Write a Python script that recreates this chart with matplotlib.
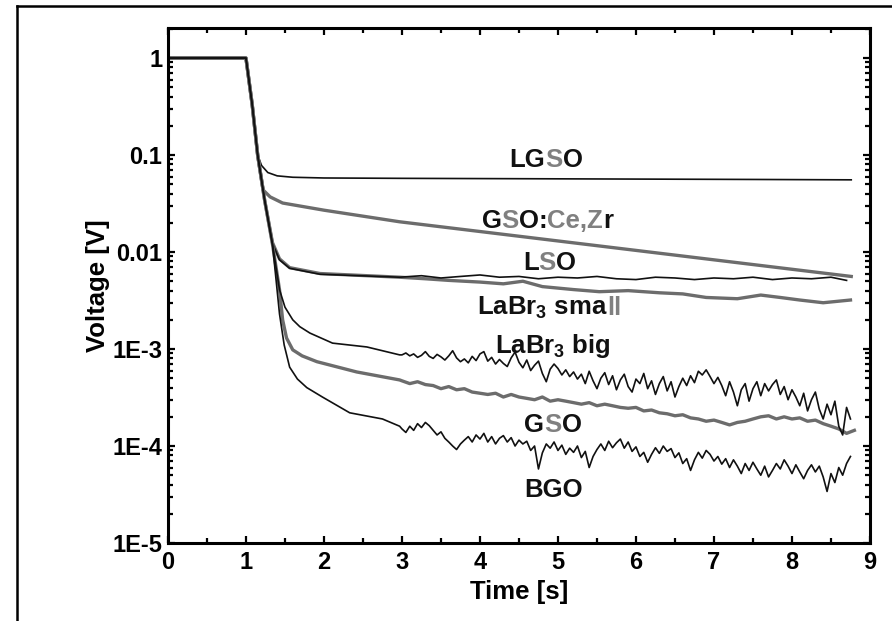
import numpy as np
import matplotlib.pyplot as plt
from matplotlib.lines import Line2D
from matplotlib.ticker import FixedLocator, FixedFormatter, MultipleLocator, LogLocator, NullFormatter

plt.rcParams['font.family'] = ['Liberation Sans', 'DejaVu Sans']
plt.rcParams['font.weight'] = 'bold'
plt.rcParams['mathtext.default'] = 'regular'

BLACK = '#111111'
GRAY = '#6c6c6c'
TXT_GRAY = '#808080'

# pulse (all crystals): 1 V until the LED switches off at t = 1 s
head_t = [0.0, 1.0, 1.08, 1.15]
head_v = [1.0, 1.0, 0.33, 0.1]

# LGSO
lgso_t = [1.2, 1.28, 1.4, 1.6, 2.0, 3.0, 4.5, 6.0, 7.5, 8.76]
lgso_v = [0.078, 0.066, 0.061, 0.059, 0.058, 0.0575, 0.057, 0.0565, 0.056, 0.0555]

# GSO:Ce,Zr
gsoz_t = [1.22, 1.31, 1.47, 2.0, 2.97, 8.76]
gsoz_v = [0.0436, 0.037, 0.032, 0.027, 0.0205, 0.0056]

# LSO
lso_t = [1.24, 1.34, 1.43, 1.56, 1.95, 2.97, 3.25, 3.5, 3.75, 4.0, 4.25, 4.5, 4.75,
         5.0, 5.25, 5.5, 5.75, 6.0, 6.25, 6.5, 6.75, 7.0, 7.25, 7.5, 7.75, 8.0,
         8.25, 8.5, 8.7]
lso_v = [0.034, 0.0123, 0.0083, 0.0068, 0.0059, 0.0055, 0.0057, 0.0054, 0.0056, 0.0058,
         0.0055, 0.0056, 0.0053, 0.0055, 0.0054, 0.0056, 0.0053, 0.0052, 0.0055, 0.0054,
         0.0052, 0.0054, 0.0053, 0.0055, 0.0052, 0.0054, 0.0053, 0.0055, 0.0051]

# LaBr3 small
lbs_t = [1.24, 1.34, 1.43, 1.56, 1.95, 2.97, 3.3, 3.6, 4.0, 4.3, 4.55, 4.8, 5.2, 5.53,
         5.9, 6.3, 6.6, 6.9, 7.3, 7.6, 7.85, 8.1, 8.4, 8.75]
lbs_v = [0.034, 0.0125, 0.0085, 0.0069, 0.006, 0.0055, 0.0053, 0.0051, 0.0049, 0.0047,
         0.0050, 0.0044, 0.0041, 0.0039, 0.0040, 0.0038, 0.0037, 0.0034, 0.0033, 0.0036,
         0.0034, 0.0032, 0.0030, 0.0032]

# shared steep part of the three slow crystals
low_t = [1.24, 1.34, 1.43]
low_v = [0.034, 0.012, 0.0041]

# LaBr3 big: knee, then samples every 0.05 s from 3.0 s
lbb_knee_t = [1.5, 1.6, 1.69, 1.82, 2.11, 2.55, 2.97]
lbb_knee_v = [0.0027, 0.0020, 0.0017, 0.00146, 0.00115, 0.00105, 0.00087]
lbb_tail = [8.7e-4, 9.1e-4, 8.5e-4, 8.9e-4, 8.2e-4, 8.6e-4, 9.4e-4, 8.4e-4, 8.0e-4, 8.8e-4,
            8.3e-4, 7.7e-4, 8.5e-4, 9.6e-4, 8.1e-4, 7.4e-4, 7.9e-4, 7.2e-4, 8.4e-4, 7.6e-4,
            8.9e-4, 9.4e-4, 7.5e-4, 8.2e-4, 7.0e-4, 7.8e-4, 7.1e-4, 6.6e-4, 8.1e-4, 9.3e-4,
            7.3e-4, 6.4e-4, 7.7e-4, 6.0e-4, 6.8e-4, 7.5e-4, 5.6e-4, 4.6e-4, 6.2e-4, 7.0e-4,
            6.3e-4, 5.4e-4, 6.1e-4, 5.2e-4, 5.8e-4, 4.9e-4, 5.5e-4, 4.4e-4, 5.9e-4, 4.7e-4,
            3.9e-4, 5.0e-4, 5.7e-4, 4.3e-4, 5.3e-4, 3.8e-4, 4.8e-4, 5.5e-4, 4.1e-4, 3.6e-4,
            4.9e-4, 4.4e-4, 5.6e-4, 3.9e-4, 4.7e-4, 3.4e-4, 4.4e-4, 5.2e-4, 3.7e-4, 4.6e-4,
            3.2e-4, 4.1e-4, 5.0e-4, 4.2e-4, 5.3e-4, 4.5e-4, 5.9e-4, 5.4e-4, 6.1e-4, 5.2e-4,
            4.4e-4, 5.1e-4, 4.2e-4, 3.3e-4, 4.6e-4, 3.6e-4, 2.6e-4, 3.8e-4, 4.4e-4, 2.9e-4,
            3.9e-4, 4.6e-4, 3.3e-4, 4.4e-4, 3.7e-4, 4.3e-4, 4.8e-4, 3.4e-4, 4.1e-4, 3.0e-4,
            3.8e-4, 3.2e-4, 2.6e-4, 3.5e-4, 2.3e-4, 3.0e-4, 3.6e-4, 2.4e-4, 1.9e-4, 2.7e-4,
            2.1e-4, 2.9e-4, 1.6e-4, 1.3e-4, 2.5e-4, 1.9e-4]

# GSO: knee, then samples every 0.1 s from 3.0 s
gso_knee_t = [1.47, 1.52, 1.6, 1.72, 1.91, 2.42, 2.97]
gso_knee_v = [0.0020, 0.0013, 0.00098, 0.00085, 0.00074, 0.00058, 0.00048]
gso_tail = [4.7e-4, 4.4e-4, 4.6e-4, 4.3e-4, 4.2e-4, 3.9e-4, 4.1e-4, 3.8e-4, 3.9e-4, 3.6e-4,
            3.5e-4, 3.4e-4, 3.5e-4, 3.2e-4, 3.4e-4, 3.2e-4, 3.1e-4, 3.0e-4, 3.2e-4, 2.9e-4,
            3.0e-4, 2.9e-4, 2.8e-4, 2.7e-4, 2.8e-4, 2.6e-4, 2.7e-4, 2.6e-4, 2.5e-4, 2.45e-4,
            2.5e-4, 2.3e-4, 2.35e-4, 2.2e-4, 2.15e-4, 2.05e-4, 2.1e-4, 1.95e-4, 1.9e-4, 1.8e-4,
            1.85e-4, 1.75e-4, 1.65e-4, 1.75e-4, 1.8e-4, 1.9e-4, 2.0e-4, 2.05e-4, 1.9e-4, 2.0e-4,
            1.9e-4, 1.95e-4, 1.8e-4, 1.85e-4, 1.7e-4, 1.6e-4, 1.5e-4, 1.35e-4, 1.45e-4]

# BGO: knee, then samples every 0.05 s from 3.0 s
bgo_knee_t = [1.43, 1.49, 1.56, 1.66, 1.78, 1.98, 2.33, 2.75, 2.97]
bgo_knee_v = [2.3e-3, 1.1e-3, 6.5e-4, 4.9e-4, 4.0e-4, 3.2e-4, 2.2e-4, 1.9e-4, 1.6e-4]
bgo_tail = [1.5e-4, 1.38e-4, 1.6e-4, 1.45e-4, 1.7e-4, 1.55e-4, 1.75e-4, 1.62e-4, 1.45e-4, 1.3e-4,
            1.4e-4, 1.2e-4, 1.1e-4, 1.0e-4, 9.2e-5, 1.05e-4, 1.15e-4, 1.25e-4, 1.1e-4, 1.3e-4,
            1.18e-4, 1.35e-4, 1.1e-4, 1.25e-4, 1.05e-4, 1.2e-4, 1.28e-4, 1.1e-4, 1.22e-4, 1.0e-4,
            1.15e-4, 1.05e-4, 1.12e-4, 9.0e-5, 1.0e-4, 5.8e-5, 8.5e-5, 1.05e-4, 9.5e-5, 1.1e-4,
            9.0e-5, 1.02e-4, 8.2e-5, 9.5e-5, 8.6e-5, 1.0e-4, 7.6e-5, 8.8e-5, 6.0e-5, 7.8e-5,
            9.2e-5, 1.05e-4, 9.0e-5, 1.12e-4, 9.6e-5, 1.08e-4, 1.18e-4, 9.5e-5, 1.1e-4, 8.8e-5,
            9.8e-5, 7.8e-5, 8.6e-5, 6.8e-5, 8.2e-5, 9.6e-5, 8.4e-5, 1.0e-4, 8.8e-5, 9.4e-5,
            7.6e-5, 8.5e-5, 6.6e-5, 7.4e-5, 5.6e-5, 7.2e-5, 8.6e-5, 7.5e-5, 9.0e-5, 8.2e-5,
            7.0e-5, 7.8e-5, 6.5e-5, 7.4e-5, 6.0e-5, 7.2e-5, 6.2e-5, 5.2e-5, 6.6e-5, 5.6e-5,
            6.8e-5, 5.8e-5, 5.0e-5, 6.2e-5, 4.8e-5, 5.6e-5, 6.6e-5, 5.8e-5, 7.2e-5, 6.2e-5,
            5.2e-5, 6.4e-5, 5.4e-5, 4.6e-5, 5.6e-5, 6.4e-5, 5.4e-5, 6.2e-5, 4.8e-5, 3.4e-5,
            5.2e-5, 4.2e-5, 6.0e-5, 5.0e-5, 6.6e-5, 7.8e-5]

y_ticks = [1e-5, 1e-4, 1e-3, 1e-2, 1e-1, 1]
y_ticklabels = ['1E-5', '1E-4', '1E-3', '0.01', '0.1', '1']

# sample times of the recorded tails
fine_t = list(3.0 + 0.05 * np.arange(len(lbb_tail)))
bgo_t = list(3.0 + 0.05 * np.arange(len(bgo_tail)))
coarse_t = list(3.0 + 0.1 * np.arange(len(gso_tail)))

fig = plt.figure(figsize=(8.92, 6.21), dpi=100)
ax = fig.add_axes([0.1883, 0.1256, 0.9753 - 0.1883, 0.9549 - 0.1256])

thin = dict(color=BLACK, lw=1.2)
thick = dict(color=GRAY, lw=2.4)

ax.plot(head_t + lgso_t, head_v + lgso_v, **thin)
ax.plot(head_t + gsoz_t, head_v + gsoz_v, **thick)
ax.plot(head_t + lbs_t, head_v + lbs_v, **thick)
ax.plot(head_t + lso_t, head_v + lso_v, **thin)
ax.plot(head_t + low_t + gso_knee_t + coarse_t,
        head_v + low_v + gso_knee_v + gso_tail, **thick)
ax.plot(head_t + low_t + lbb_knee_t + fine_t,
        head_v + low_v + lbb_knee_v + lbb_tail, **thin)
ax.plot(head_t + low_t[:2] + bgo_knee_t + bgo_t,
        head_v + low_v[:2] + bgo_knee_v + bgo_tail, **thin)

ax.set_yscale('log')
ax.set_xlim(0, 9)
ax.set_ylim(1e-5, 2.04)

ax.xaxis.set_major_locator(MultipleLocator(1))
ax.xaxis.set_minor_locator(MultipleLocator(0.5))
ax.yaxis.set_major_locator(FixedLocator(y_ticks))
ax.yaxis.set_major_formatter(FixedFormatter(y_ticklabels))
ax.yaxis.set_minor_locator(LogLocator(base=10, subs=np.arange(2, 10), numticks=20))
ax.yaxis.set_minor_formatter(NullFormatter())

ax.tick_params(which='both', direction='in', top=True, right=True, width=1.6,
               labelsize=17, pad=4)
ax.tick_params(which='major', length=5)
ax.tick_params(which='minor', length=3.5)
ax.tick_params(axis='x', pad=6)
for lab in ax.get_xticklabels() + ax.get_yticklabels():
    lab.set_fontweight('bold')
for sp in ax.spines.values():
    sp.set_linewidth(2.2)

ax.set_xlabel('Time [s]', fontsize=18.5, fontweight='bold', labelpad=4)
ax.set_ylabel('Voltage [V]', fontsize=18.5, fontweight='bold', labelpad=2)


def multicolor(x, y, pieces, size=18.5):
    """Write a label piece by piece so single letters can get their own colour."""
    renderer = fig.canvas.get_renderer()
    for s, c in pieces:
        t = ax.text(x, y, s, color=c, fontsize=size, fontweight='bold',
                    ha='left', va='baseline')
        bb = t.get_window_extent(renderer)
        x = ax.transData.inverted().transform((bb.x1, bb.y0))[0]


fig.canvas.draw()
multicolor(4.38, 0.0752, [('LG', BLACK), ('S', TXT_GRAY), ('O', BLACK)])
multicolor(4.02, 0.0177, [('G', BLACK), ('S', TXT_GRAY), ('O:', BLACK),
                          ('Ce,Z', TXT_GRAY), ('r', BLACK)])
multicolor(4.55, 0.00654, [('L', BLACK), ('S', TXT_GRAY), ('O', BLACK)])
multicolor(3.96, 0.00224, [('LaBr$_3$ sma', BLACK), ('ll', TXT_GRAY)])
multicolor(4.19, 9.1e-4, [('LaBr$_3$ big', BLACK)])
multicolor(4.57, 1.38e-4, [('G', BLACK), ('S', TXT_GRAY), ('O', BLACK)])
multicolor(4.57, 3.0e-5, [('BGO', BLACK)])

# outer frame, open to the right and bottom
fig.add_artist(Line2D([17 / 892, 17 / 892], [0, 1 - 6 / 621], transform=fig.transFigure,
                      color='black', lw=1.8))
fig.add_artist(Line2D([17 / 892, 1], [1 - 6 / 621, 1 - 6 / 621], transform=fig.transFigure,
                      color='black', lw=1.8))

fig.savefig('out.png', dpi=100)
